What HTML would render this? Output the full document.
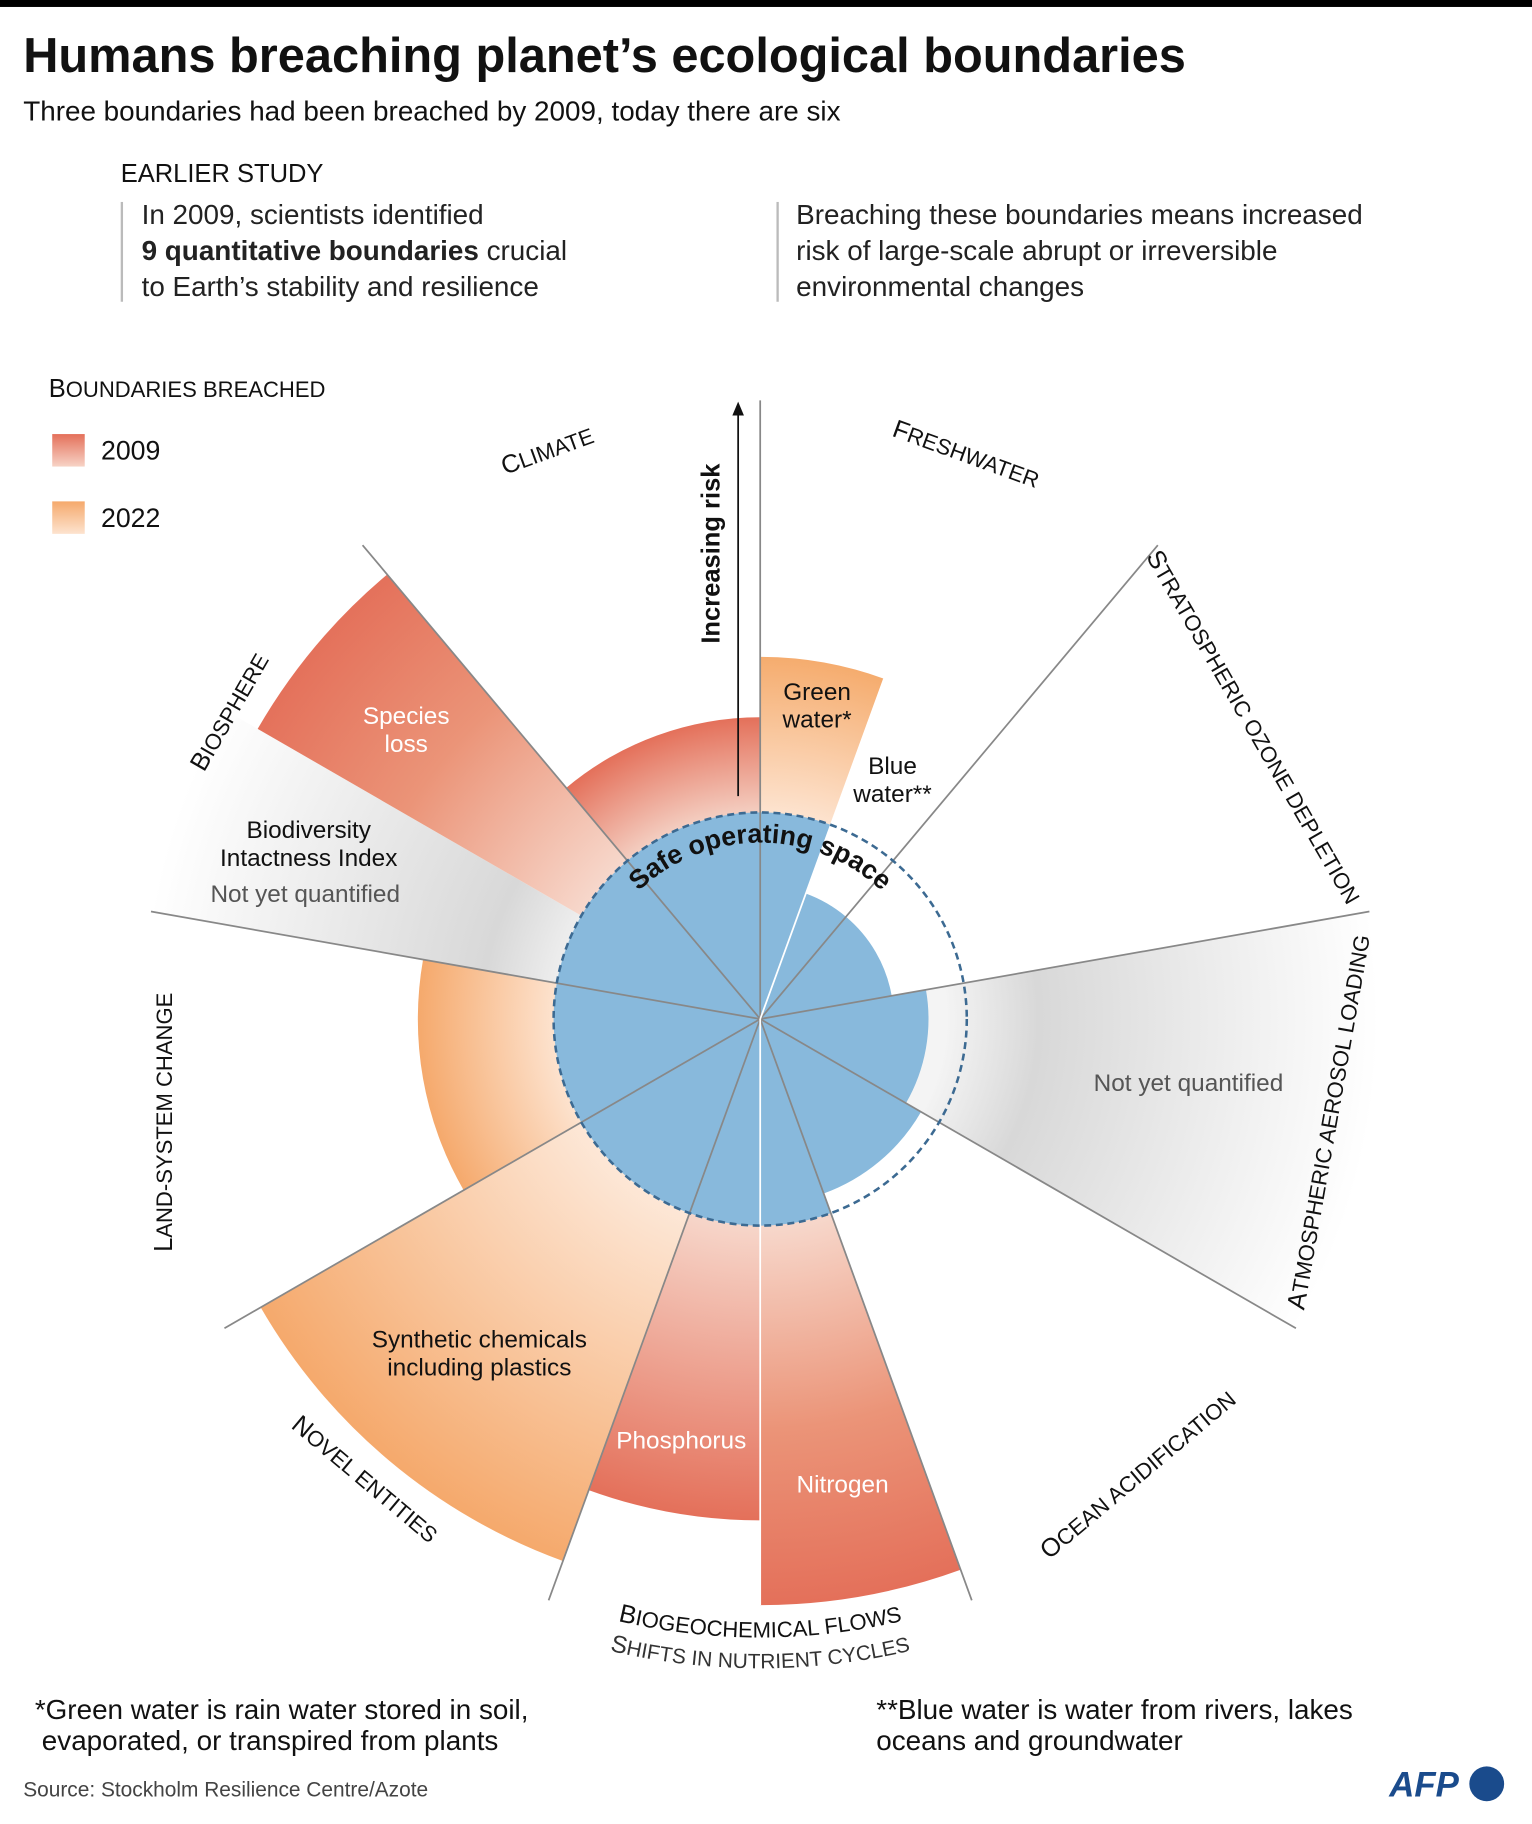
<!DOCTYPE html>
<html><head><meta charset="utf-8">
<style>
html,body{margin:0;padding:0;background:#fff;}
svg{display:block;font-family:"Liberation Sans",sans-serif;}
</style></head>
<body>
<svg id="s" width="1532" height="1824" viewBox="0 0 1320 1571.6" xmlns="http://www.w3.org/2000/svg">
<defs>
<radialGradient id="gRed" gradientUnits="userSpaceOnUse" cx="655" cy="878" r="505">
<stop offset="0.35" stop-color="#f7d8cc"/><stop offset="0.7" stop-color="#eb9478"/><stop offset="1" stop-color="#e4705a"/></radialGradient>
<radialGradient id="gRedC" gradientUnits="userSpaceOnUse" cx="655" cy="878" r="260">
<stop offset="0.68" stop-color="#f4cfc2"/><stop offset="1" stop-color="#e4705a"/></radialGradient>
<radialGradient id="gRedP" gradientUnits="userSpaceOnUse" cx="655" cy="878" r="432">
<stop offset="0.4" stop-color="#f7d8cc"/><stop offset="1" stop-color="#e4705a"/></radialGradient>
<radialGradient id="gOr" gradientUnits="userSpaceOnUse" cx="655" cy="878" r="497">
<stop offset="0.35" stop-color="#fde8d8"/><stop offset="1" stop-color="#f5a96c"/></radialGradient>
<radialGradient id="gOrL" gradientUnits="userSpaceOnUse" cx="655" cy="878" r="295">
<stop offset="0.6" stop-color="#fde3cf"/><stop offset="1" stop-color="#f5a96c"/></radialGradient>
<radialGradient id="gOrG" gradientUnits="userSpaceOnUse" cx="655" cy="878" r="312">
<stop offset="0.57" stop-color="#fde3cf"/><stop offset="1" stop-color="#f5ac6e"/></radialGradient>
<radialGradient id="gGrey" gradientUnits="userSpaceOnUse" cx="655" cy="878" r="533">
<stop offset="0.3" stop-color="#f4f4f4"/><stop offset="0.45" stop-color="#d8d8d8"/><stop offset="1" stop-color="#ffffff"/></radialGradient>
<linearGradient id="lRed" x1="0" y1="0" x2="0" y2="1"><stop offset="0" stop-color="#e4705a"/><stop offset="1" stop-color="#f7d3c6"/></linearGradient>
<linearGradient id="lOr" x1="0" y1="0" x2="0" y2="1"><stop offset="0" stop-color="#f5a96c"/><stop offset="1" stop-color="#fde3cf"/></linearGradient>
<path id="arcSafe" d="M 503 878 A 152 152 0 0 1 807 878"/>
<path id="arcBio" d="M 313 1287 A 534 534 0 0 0 997 1287"/>
<path id="arcShift" d="M 295 1307 A 562 562 0 0 0 1015 1307"/>
</defs>
<rect x="0" y="0" width="1320" height="6" fill="#000"/>
<text x="20" y="62" font-size="42" font-weight="bold" fill="#111">Humans breaching planet’s ecological boundaries</text>
<text x="20" y="104" font-size="24" fill="#111">Three boundaries had been breached by 2009, today there are six</text>
<text x="104" y="157" font-size="22" fill="#111">EARLIER STUDY</text>
<rect x="104" y="174" width="2" height="86" fill="#bbb"/>
<rect x="669" y="174" width="2" height="86" fill="#bbb"/>
<g font-size="24" fill="#222">
<text x="122" y="193">In 2009, scientists identified</text>
<text x="122" y="224"><tspan font-weight="bold">9 quantitative boundaries</tspan> crucial</text>
<text x="122" y="255">to Earth’s stability and resilience</text>
<text x="686" y="193">Breaching these boundaries means increased</text>
<text x="686" y="224">risk of large-scale abrupt or irreversible</text>
<text x="686" y="255">environmental changes</text>
</g>
<text x="42" y="342" font-size="19" fill="#111"><tspan font-size="22">B</tspan>OUNDARIES BREACHED</text>
<rect x="45" y="374" width="28" height="28" fill="url(#lRed)"/>
<rect x="45" y="432" width="28" height="28" fill="url(#lOr)"/>
<text x="87" y="396" font-size="23" fill="#111">2009</text>
<text x="87" y="454" font-size="23" fill="#111">2022</text>
<g id="wedges"></g>
<circle cx="655" cy="878" r="178" fill="none" stroke="#3c6a92" stroke-width="2.2" stroke-dasharray="6,4"/>
<line x1="636" y1="686" x2="636" y2="356" stroke="#111" stroke-width="1.5"/>
<polygon points="636,346 631,358 641,358" fill="#111"/>
<text transform="translate(620,477) rotate(-90)" text-anchor="middle" font-size="22" font-weight="bold" fill="#111">Increasing risk</text>
<text font-size="23" font-weight="bold" fill="#111"><textPath href="#arcSafe" startOffset="50%" text-anchor="middle">Safe operating space</textPath></text>
<g font-size="19" fill="#111">
<text transform="translate(474,395) rotate(-20)" text-anchor="middle"><tspan font-size="22">C</tspan>LIMATE</text>
<text transform="translate(830,398) rotate(20)" text-anchor="middle"><tspan font-size="22">F</tspan>RESHWATER</text>
<text transform="translate(1074,630) rotate(60)" text-anchor="middle"><tspan font-size="22">S</tspan>TRATOSPHERIC OZONE DEPLETION</text>
<text transform="translate(1152,968) rotate(-80)" text-anchor="middle"><tspan font-size="22">A</tspan>TMOSPHERIC AEROSOL LOADING</text>
<text transform="translate(985,1276) rotate(-40)" text-anchor="middle"><tspan font-size="22">O</tspan>CEAN ACIDIFICATION</text>
<text transform="translate(310,1280) rotate(40)" text-anchor="middle"><tspan font-size="22">N</tspan>OVEL ENTITIES</text>
<text transform="translate(148,967) rotate(-90)" text-anchor="middle"><tspan font-size="22">L</tspan>AND-SYSTEM CHANGE</text>
<text transform="translate(204,617) rotate(-60)" text-anchor="middle"><tspan font-size="22">B</tspan>IOSPHERE</text>
<text><textPath href="#arcBio" startOffset="50%" text-anchor="middle"><tspan font-size="22">B</tspan>IOGEOCHEMICAL FLOWS</textPath></text>
<text fill="#333" font-size="18"><textPath href="#arcShift" startOffset="50%" text-anchor="middle"><tspan font-size="21">S</tspan>HIFTS IN NUTRIENT CYCLES</textPath></text>
</g>
<g font-size="21" text-anchor="middle">
<text x="350" y="624" fill="#fff">Species</text><text x="350" y="648" fill="#fff">loss</text>
<text x="704" y="603" fill="#111">Green</text><text x="704" y="627" fill="#111">water*</text>
<text x="769" y="667" fill="#111">Blue</text><text x="769" y="691" fill="#111">water**</text>
<text x="266" y="722" fill="#111">Biodiversity</text><text x="266" y="746" fill="#111">Intactness Index</text>
<text x="263" y="777" fill="#555">Not yet quantified</text>
<text x="1024" y="940" fill="#555">Not yet quantified</text>
<text x="413" y="1161" fill="#111">Synthetic chemicals</text><text x="413" y="1185" fill="#111">including plastics</text>
<text x="587" y="1248" fill="#fff">Phosphorus</text>
<text x="726" y="1286" fill="#fff">Nitrogen</text>
</g>
<g font-size="24" fill="#111">
<text x="30" y="1481">*Green water is rain water stored in soil,</text>
<text x="36" y="1508">evaporated, or transpired from plants</text>
<text x="755" y="1481">**Blue water is water from rivers, lakes</text>
<text x="755" y="1508">oceans and groundwater</text>
</g>
<text x="20" y="1548" font-size="18" fill="#444">Source: Stockholm Resilience Centre/Azote</text>
<text x="1197" y="1548" font-size="30" font-weight="bold" font-style="italic" fill="#1a4b8c">AFP</text>
<circle cx="1281" cy="1537" r="15" fill="#1a4b8c"/>
</svg>
<script>
(function(){
var cx=655,cy=878,g=document.getElementById('wedges'),NS='http://www.w3.org/2000/svg';
function p(r,a){a=a*Math.PI/180;return (cx+r*Math.sin(a)).toFixed(1)+' '+(cy-r*Math.cos(a)).toFixed(1);}
function w(r,a1,a2,fill){var e=document.createElementNS(NS,'path');
e.setAttribute('d','M '+cx+' '+cy+' L '+p(r,a1)+' A '+r+' '+r+' 0 0 1 '+p(r,a2)+' Z');
e.setAttribute('fill',fill);g.appendChild(e);}
function l(r,a,c,sw){var e=document.createElementNS(NS,'path');
e.setAttribute('d','M '+cx+' '+cy+' L '+p(r,a));e.setAttribute('stroke',c);e.setAttribute('stroke-width',sw);g.appendChild(e);}
w(260,320,360,'url(#gRedC)');
w(312,0,20,'url(#gOrG)');
w(533,80,120,'url(#gGrey)');
w(505,160,180,'url(#gRed)');
w(432,180,200,'url(#gRedP)');
w(497,200,240,'url(#gOr)');
w(295,240,280,'url(#gOrL)');
w(533,280,300,'url(#gGrey)');
w(500,300,320,'url(#gRed)');
var B='#88b9dc';
w(178,320,360,B);w(178,0,20,B);w(115,20,40,B);w(115,40,80,B);
w(145,80,120,B);w(160,120,160,B);w(178,160,200,B);w(178,200,240,B);
w(178,240,280,B);w(178,280,320,B);
for(var a=0;a<360;a+=40){l(533,a,'#888',1.5);}
l(312,20,'#fff',1.5);l(505,180,'#fff',1.5);
})();
</script>
</body></html>
